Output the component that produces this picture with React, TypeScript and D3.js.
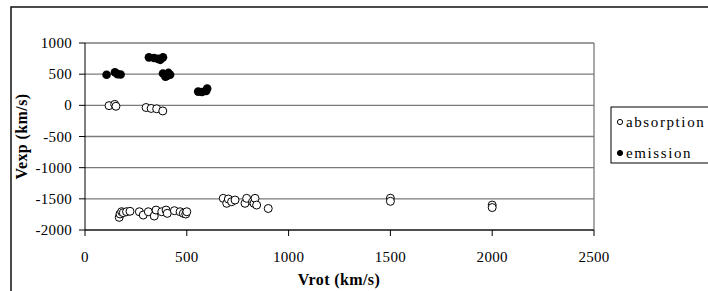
import React from "react";
import * as d3 from "d3";

// absorption points (Vrot, Vexp)
const absVrot = [
  118, 146, 152, 300, 325, 352, 382,
  168, 172, 180, 188, 204, 221, 267, 286, 311, 340, 349, 377, 398, 404, 439, 467, 483, 495, 500,
  679, 696, 704, 720, 737, 786, 794, 824, 830, 835, 843, 900,
  1500, 1500, 2000, 2000,
];
const absVexp = [
  -5, 15, -15, -35, -50, -55, -90,
  -1797, -1743, -1706, -1722, -1706, -1700, -1707, -1760, -1707, -1776, -1680, -1707, -1680, -1733, -1690, -1707, -1733, -1744, -1707,
  -1492, -1572, -1503, -1546, -1519, -1572, -1492, -1546, -1572, -1492, -1600, -1655,
  -1490, -1540, -1600, -1640,
];

// emission points
const emiVrot = [106, 147, 175, 160, 314, 339, 359, 383, 370, 383, 403, 418, 395, 410, 556, 575, 600, 595];
const emiVexp = [490, 530, 495, 500, 770, 760, 745, 770, 730, 510, 470, 490, 460, 520, 220, 215, 270, 230];

const xTicks = [0, 500, 1000, 1500, 2000, 2500];
const yTicks = [1000, 500, 0, -500, -1000, -1500, -2000];
const legendLabels = ["absorption", "emission"];

const FONT = "Times New Roman, Liberation Serif, DejaVu Serif, serif";

export default function App() {
  const W = 708;
  const H = 291;
  const plot = { left: 85, right: 594, top: 43, bottom: 230 };

  const x = d3.scaleLinear().domain([0, 2500]).range([plot.left, plot.right]);
  const y = d3.scaleLinear().domain([-2000, 1000]).range([plot.bottom, plot.top]);

  const abs = absVrot.map((v, i) => [v, absVexp[i]]);
  const emi = emiVrot.map((v, i) => [v, emiVexp[i]]);

  return (
    <svg
      width={W}
      height={H}
      style={{ position: "absolute", left: 0, top: 0, display: "block", background: "#fff" }}
    >
      {/* outer chart border */}
      <rect x={11} y={7} width={720} height={320} fill="none" stroke="#111" strokeWidth={1.5} />

      {/* gridlines */}
      {yTicks.map((t) => (
        <line key={"g" + t} x1={plot.left} x2={plot.right} y1={y(t)} y2={y(t)} stroke="#7a7a7a" strokeWidth={1.3} />
      ))}
      <line x1={plot.right} x2={plot.right} y1={plot.top} y2={plot.bottom} stroke="#7a7a7a" strokeWidth={1.3} />

      {/* axes */}
      <line x1={plot.left} x2={plot.left} y1={plot.top} y2={plot.bottom} stroke="#000" strokeWidth={1} />
      <line x1={plot.left} x2={plot.right} y1={plot.bottom} y2={plot.bottom} stroke="#000" strokeWidth={1} />
      {yTicks.map((t) => (
        <g key={"y" + t}>
          <line x1={plot.left - 6} x2={plot.left} y1={y(t)} y2={y(t)} stroke="#000" />
          <text x={72} y={y(t) + 5} textAnchor="end" fontSize={15} letterSpacing={0.3} fontFamily={FONT}>
            {t}
          </text>
        </g>
      ))}
      {xTicks.map((t) => (
        <g key={"x" + t}>
          <line x1={x(t)} x2={x(t)} y1={plot.bottom} y2={plot.bottom + 6} stroke="#000" />
          <text x={x(t)} y={262} textAnchor="middle" fontSize={15} letterSpacing={0.3} fontFamily={FONT}>
            {t}
          </text>
        </g>
      ))}

      {/* axis titles */}
      <text x={339} y={285} textAnchor="middle" fontSize={16} fontWeight="bold" letterSpacing={0.4} fontFamily={FONT}>
        Vrot (km/s)
      </text>
      <text
        transform={`translate(27, ${y(-500)}) rotate(-90)`}
        textAnchor="middle"
        fontSize={16}
        fontWeight="bold"
        letterSpacing={0.4}
        fontFamily={FONT}
      >
        Vexp (km/s)
      </text>

      {/* points */}
      {emi.map((d, i) => (
        <circle key={"e" + i} cx={x(d[0])} cy={y(d[1])} r={4.3} fill="#000" />
      ))}
      {abs.map((d, i) => (
        <circle key={"a" + i} cx={x(d[0])} cy={y(d[1])} r={4} fill="#fff" stroke="#000" strokeWidth={1} />
      ))}

      {/* legend */}
      <rect x={611} y={107} width={110} height={56} fill="#fff" stroke="#000" strokeWidth={1} />
      {legendLabels.map((l, i) => (
        <g key={l}>
          <circle
            cx={620}
            cy={122 + i * 31}
            r={2.6}
            fill={i === 0 ? "#fff" : "#000"}
            stroke="#000"
            strokeWidth={1}
          />
          <text x={626} y={127 + i * 31} fontSize={15} letterSpacing={1.6} fontFamily={FONT}>
            {l}
          </text>
        </g>
      ))}
    </svg>
  );
}
